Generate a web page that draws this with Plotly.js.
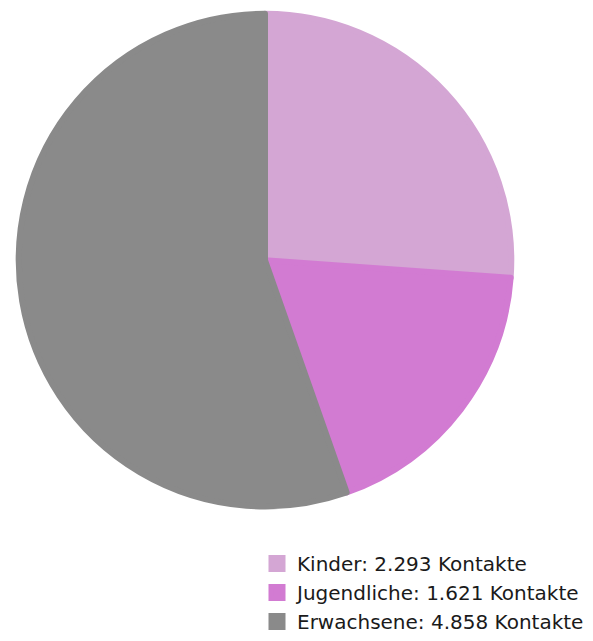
<!DOCTYPE html>
<html>
<head>
<meta charset="utf-8">
<script src="https://cdn.plot.ly/plotly-3.0.1.min.js"></script>
<style>html,body{margin:0;padding:0;background:#fff;}#chart{width:593px;height:641px;}</style>
</head>
<body>
<div id="chart"></div>
<script>
var categories = ["Kinder", "Jugendliche", "Erwachsene"];
var values = [2293, 1621, 4858];
var unit = "Kontakte";
var colors = ["#d4a6d4", "#d27bd2", "#8a8a8a"];

function fmt(n) {
  return String(n).replace(/\B(?=(\d{3})+(?!\d))/g, ".");
}
var labels = categories.map(function (c, i) { return c + ": " + fmt(values[i]) + " " + unit; });

var trace = {
  type: "pie",
  labels: labels,
  values: values,
  sort: false,
  direction: "clockwise",
  rotation: 0,
  textinfo: "none",
  hoverinfo: "none",
  marker: { colors: colors, line: { width: 6, color: colors } },
  domain: { x: [16 / 593, 514 / 593], y: [1 - 512 / 641, 1 - 14 / 641] }
};

var layout = {
  width: 593,
  height: 641,
  margin: { l: 0, r: 0, t: 0, b: 0 },
  paper_bgcolor: "#ffffff",
  showlegend: true,
  legend: {
    x: 257 / 593,
    xanchor: "left",
    y: 1 - 550 / 641,
    yanchor: "top",
    font: { family: "DejaVu Sans, sans-serif", size: 20, color: "#1a1a1a" },
    bgcolor: "rgba(0,0,0,0)",
    itemclick: false,
    itemdoubleclick: false
  }
};

Plotly.newPlot("chart", [trace], layout, { staticPlot: true, displayModeBar: false });
</script>
</body>
</html>
